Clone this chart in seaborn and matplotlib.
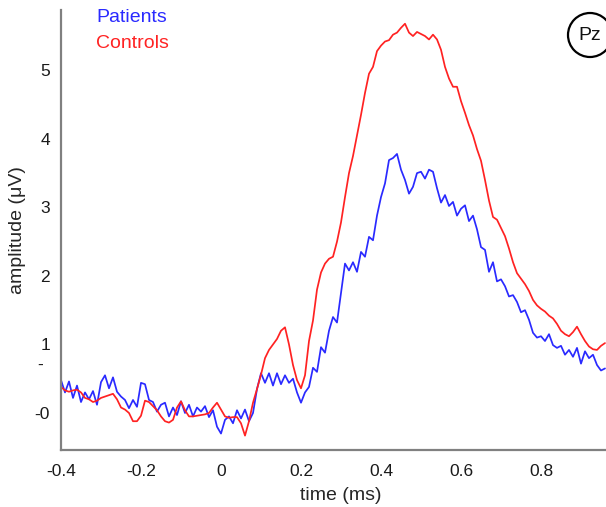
import numpy as np
import pandas as pd
import matplotlib
matplotlib.use('Agg')
import matplotlib.pyplot as plt
import seaborn as sns
from matplotlib.patches import Ellipse

# time axis, 10 ms steps from -0.40 to 0.96
time = np.round(np.arange(-0.40, 0.965, 0.01), 2)

controls = [
    0.38, 0.33, 0.31, 0.33, 0.34, 0.30, 0.22, 0.20, 0.16, 0.18,
    0.22, 0.24, 0.26, 0.28, 0.20, 0.08, 0.05, 0.00, -0.12, -0.12,
    -0.04, 0.18, 0.16, 0.10, 0.04, -0.05, -0.12, -0.14, -0.10, 0.08,
    0.17, 0.04, -0.05, -0.05, -0.04, -0.03, -0.02, 0.00, 0.08, 0.15,
    0.05, -0.05, -0.07, -0.06, -0.06, -0.15, -0.33, -0.12, 0.15, 0.35,
    0.56, 0.80, 0.92, 1.00, 1.08, 1.20, 1.25, 1.00, 0.70, 0.48,
    0.36, 0.55, 1.05, 1.35, 1.80, 2.05, 2.18, 2.25, 2.28, 2.50,
    2.78, 3.15, 3.50, 3.75, 4.05, 4.35, 4.67, 4.95, 5.05, 5.28,
    5.36, 5.42, 5.44, 5.52, 5.55, 5.62, 5.68, 5.55, 5.50, 5.56,
    5.53, 5.50, 5.45, 5.52, 5.45, 5.30, 5.05, 4.88, 4.76, 4.76,
    4.55, 4.38, 4.20, 4.05, 3.85, 3.68, 3.40, 3.10, 2.86, 2.82,
    2.70, 2.58, 2.40, 2.20, 2.04, 1.96, 1.88, 1.78, 1.65, 1.57,
    1.52, 1.48, 1.42, 1.38, 1.30, 1.20, 1.15, 1.12, 1.18, 1.26,
    1.15, 1.05, 0.97, 0.93, 0.92, 0.98, 1.02,
]

patients = [
    0.48, 0.30, 0.46, 0.22, 0.40, 0.16, 0.30, 0.20, 0.32, 0.12,
    0.45, 0.55, 0.36, 0.52, 0.31, 0.24, 0.19, 0.07, 0.19, 0.09,
    0.44, 0.42, 0.19, 0.16, 0.02, 0.12, 0.15, -0.05, 0.08, -0.03,
    0.17, 0.00, 0.12, -0.05, 0.08, 0.02, 0.10, -0.06, 0.04, -0.20,
    -0.30, -0.10, -0.05, -0.15, 0.04, -0.08, 0.05, -0.12, 0.00, 0.35,
    0.58, 0.44, 0.58, 0.40, 0.58, 0.42, 0.55, 0.44, 0.50, 0.30,
    0.15, 0.30, 0.38, 0.66, 0.60, 0.96, 0.88, 1.20, 1.40, 1.32,
    1.75, 2.18, 2.08, 2.20, 2.06, 2.35, 2.28, 2.57, 2.52, 2.88,
    3.15, 3.35, 3.69, 3.72, 3.78, 3.55, 3.40, 3.20, 3.30, 3.50,
    3.52, 3.42, 3.55, 3.52, 3.28, 3.07, 3.18, 3.02, 3.08, 2.88,
    2.98, 3.03, 2.80, 2.88, 2.68, 2.42, 2.38, 2.06, 2.20, 1.92,
    1.95, 1.85, 1.70, 1.72, 1.62, 1.47, 1.50, 1.36, 1.17, 1.10,
    1.12, 1.05, 1.15, 0.99, 0.95, 0.98, 0.85, 0.92, 0.82, 0.95,
    0.72, 0.90, 0.80, 0.85, 0.70, 0.62, 0.65,
]

groups = ['Patients', 'Controls']
colors = {'Patients': '#2a2aff', 'Controls': '#ff2222'}
yticks = [0, 1, 2, 3, 4, 5]
ytick_labels = ['-0', '1', '2', '3', '4', '5']
xticks = [-0.4, -0.2, 0, 0.2, 0.4, 0.6, 0.8]
xtick_labels = ['-0.4', '-0.2', '0', '0.2', '0.4', '0.6', '0.8']

df = pd.concat([
    pd.DataFrame({'time': time, 'amp': patients, 'group': 'Patients'}),
    pd.DataFrame({'time': time, 'amp': controls, 'group': 'Controls'}),
])

sns.set_style('white')
plt.rcParams['font.family'] = ['Liberation Sans', 'DejaVu Sans']

fig = plt.figure(figsize=(6.06, 5.07), dpi=100)
ax = fig.add_axes([61 / 606, 57 / 507, 560 / 606, 440 / 507])

sns.lineplot(data=df, x='time', y='amp', hue='group', hue_order=groups,
             palette=colors, linewidth=1.25, legend=False, ax=ax)

ax.set_xlim(-0.4, 1.0)
ax.set_ylim(-0.54, 5.88)
ax.set_xticks(xticks)
ax.set_xticklabels(xtick_labels)
ax.set_yticks(yticks)
ax.set_yticklabels(ytick_labels)
ax.tick_params(direction='in', length=4, width=1, color='#808080',
               labelsize=12.5, labelcolor='#1a1a1a')
ax.tick_params(axis='x', pad=10)
ax.tick_params(axis='y', pad=8)
ax.set_xlabel('time (ms)', fontsize=14, labelpad=6)
ax.set_ylabel('amplitude (\u03bcV)', fontsize=14, labelpad=6)

for side in ['top', 'right']:
    ax.spines[side].set_visible(False)
for side in ['left', 'bottom']:
    ax.spines[side].set_color('#808080')
    ax.spines[side].set_linewidth(1.6)

# legend as coloured text
fig.text(96 / 606, 1 - 18 / 507, 'Patients', color=colors['Patients'],
         fontsize=14, va='center', ha='left')
fig.text(96 / 606, 1 - 43 / 507, 'Controls', color=colors['Controls'],
         fontsize=14, va='center', ha='left')

# stray dash label on y axis
fig.text(40 / 606, 1 - 365 / 507, '-', fontsize=12.5, color='#1a1a1a',
         va='center', ha='center')

# electrode badge
fig.add_artist(Ellipse((590 / 606, 1 - 35 / 507), 44 / 606, 44 / 507,
                       transform=fig.transFigure, fill=False,
                       edgecolor='black', linewidth=1.6))
fig.text(590 / 606, 1 - 35 / 507, 'Pz', fontsize=14, ha='center',
         va='center', color='#111111')

fig.savefig('out.png', dpi=100)
